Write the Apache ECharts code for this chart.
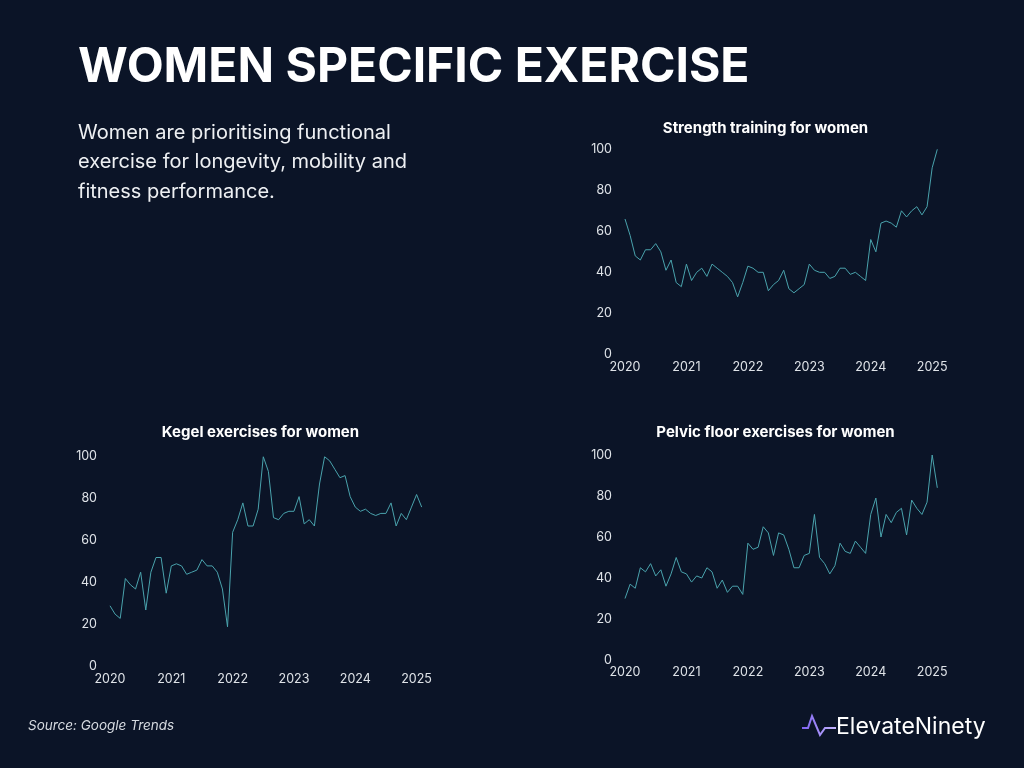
<!DOCTYPE html>
<html>
<head>
<meta charset="utf-8">
<script src="https://cdn.jsdelivr.net/npm/echarts@6/dist/echarts.min.js"></script>
<style>
html,body{margin:0;padding:0;background:#0b1427;}
#c{width:1024px;height:768px;}
</style>
</head>
<body>
<div id="c"></div>
<script>
// ---- data ----
var years = ["2020","2021","2022","2023","2024","2025"];
var months = ["01","02","03","04","05","06","07","08","09","10","11","12"];
var strength = [66,58,48,46,51,51,54,50,41,46,35,33,44,36,40,42,38,44,42,40,38,35,28,35,43,42,40,40,31,34,36,41,32,30,32,34,44,41,40,40,37,38,42,42,39,40,38,36,56,50,64,65,64,62,70,67,70,72,68,72,91,100];
var kegel = [29,25,23,42,39,37,45,27,45,52,52,35,48,49,48,44,45,46,51,48,48,45,37,19,64,70,78,67,67,75,100,93,71,70,73,74,74,81,68,70,67,87,100,98,94,90,91,81,76,74,75,73,72,73,73,78,67,73,70,76,82,76];
var pelvic = [30,37,35,45,43,47,41,44,36,42,50,43,42,38,41,40,45,43,35,39,33,36,36,32,57,54,55,65,62,51,62,61,54,45,45,51,52,71,50,47,42,46,57,53,52,58,55,52,71,79,60,71,67,72,74,61,78,74,71,77,100,84];
var chartTitles = ["Strength training for women","Kegel exercises for women","Pelvic floor exercises for women"];

var cats = [];
years.forEach(function(y){ months.forEach(function(m){ cats.push(y + "-" + m); }); });
cats = cats.slice(0, strength.length);

var LINE = "#4aa3ad";
var LBL = "#dfe3e8";
var FONT = "Inter";

var grids = [
  {left:625, top:149.3, width:312.3, height:205},
  {left:110, top:456.7, width:311.7, height:210},
  {left:625, top:455, width:312.3, height:205}
];
var seriesData = [strength, kegel, pelvic];

var xAxes = [], yAxes = [], series = [];
grids.forEach(function(g,i){
  xAxes.push({
    type:'category', gridIndex:i, data:cats, boundaryGap:false,
    axisLine:{show:false}, axisTick:{show:false}, splitLine:{show:false},
    axisLabel:{interval:11, color:LBL, fontFamily:FONT, fontSize:12.5, margin:6,
      formatter:function(v){ return v.slice(0,4); }}
  });
  yAxes.push({
    type:'value', gridIndex:i, min:0, max:100, interval:20,
    axisLine:{show:false}, axisTick:{show:false}, splitLine:{show:false},
    axisLabel:{color:LBL, fontFamily:FONT, fontSize:12.5, margin:13}
  });
  series.push({
    type:'line', xAxisIndex:i, yAxisIndex:i, data:seriesData[i],
    showSymbol:false, symbol:'none', lineStyle:{color:LINE, width:1}, silent:true
  });
});

var titleStyle = {color:'#ffffff', fontFamily:FONT, fontWeight:'bold', fontSize:15};
var chart = echarts.init(document.getElementById('c'), null, {renderer:'canvas'});
chart.setOption({
  backgroundColor:'#0b1427',
  animation:false,
  title:[
    {text:chartTitles[0], left:765.5, top:121, padding:0, textAlign:'center', textStyle:titleStyle},
    {text:chartTitles[1], left:260.5, top:425, padding:0, textAlign:'center', textStyle:titleStyle},
    {text:chartTitles[2], left:775.5, top:425, padding:0, textAlign:'center', textStyle:titleStyle}
  ],
  grid:grids,
  xAxis:xAxes,
  yAxis:yAxes,
  series:series,
  graphic:[
    {type:'text', left:78, top:44, style:{text:'WOMEN SPECIFIC EXERCISE', fill:'#ffffff', font:'bold 48px Inter'}},
    {type:'text', left:78, top:118, style:{text:'Women are prioritising functional\nexercise for longevity, mobility and\nfitness performance.', fill:'#eef0f3', font:'20px Inter', lineHeight:29.5}},
    {type:'text', left:28, top:719, style:{text:'Source: Google Trends', fill:'#d6dae0', font:'italic 13.5px Inter'}},
    {type:'text', left:836, top:716, style:{text:'ElevateNinety', fill:'#ffffff', font:'23px Inter'}},
    {type:'polyline', shape:{points:[[802,728],[808,728],[812,716],[820,735],[825,728],[836,728]]},
      style:{stroke:new echarts.graphic.LinearGradient(0,0,1,0,[{offset:0,color:'#7a5cf2'},{offset:1,color:'#c9bcff'}]), lineWidth:2, fill:null}}
  ]
});
</script>
</body>
</html>
